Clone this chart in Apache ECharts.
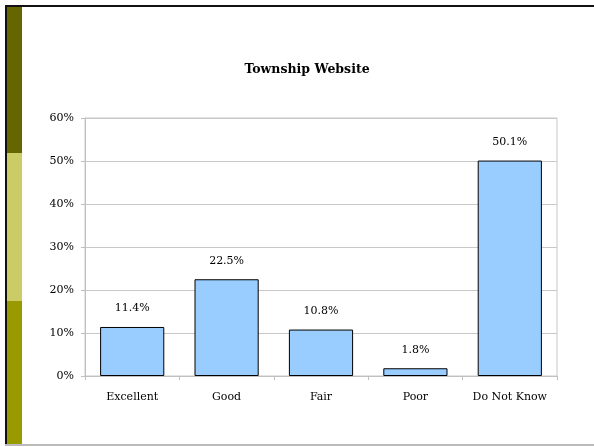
<!DOCTYPE html>
<html>
<head>
<meta charset="utf-8">
<script src="https://cdn.jsdelivr.net/npm/echarts@6/dist/echarts.min.js"></script>
<style>
  html, body { margin: 0; padding: 0; background: #fff; }
  #chart { width: 594px; height: 447px; }
</style>
</head>
<body>
<div id="chart"></div>
<script>
// Survey responses for the township website
const categories = ['Excellent', 'Good', 'Fair', 'Poor', 'Do Not Know'];
const shares = [11.4, 22.5, 10.8, 1.8, 50.1];
const yTicks = [0, 10, 20, 30, 40, 50, 60];

const FONT = '"DejaVu Serif", "Liberation Serif", serif';

const chart = echarts.init(document.getElementById('chart'), null, { renderer: 'canvas' });

chart.setOption({
  backgroundColor: '#ffffff',
  animation: false,
  title: {
    text: 'Township Website',
    left: 302,
    top: 58,
    textAlign: 'center',
    textStyle: { fontFamily: FONT, fontSize: 12.5, fontWeight: 'bold', color: '#000' }
  },
  graphic: [
    // slide frame: dark top and left edges, light bottom edge
    { type: 'rect', shape: { x: 5, y: 5, width: 589, height: 2 }, style: { fill: '#111' } },
    { type: 'rect', shape: { x: 5, y: 5, width: 2, height: 440 }, style: { fill: '#111' } },
    { type: 'rect', shape: { x: 5, y: 444, width: 589, height: 2 }, style: { fill: '#bbb' } },
    // coloured side stripe
    { type: 'rect', shape: { x: 7, y: 7, width: 15, height: 146 }, style: { fill: '#666600' } },
    { type: 'rect', shape: { x: 7, y: 153, width: 15, height: 148 }, style: { fill: '#CCCC66' } },
    { type: 'rect', shape: { x: 7, y: 301, width: 15, height: 143 }, style: { fill: '#999900' } }
  ],
  grid: { left: 85, right: 37, top: 118, bottom: 71, show: true, borderColor: '#c8c8c8', borderWidth: 1 },
  xAxis: {
    type: 'category',
    data: categories,
    axisLine: { show: true, lineStyle: { color: '#c0c0c0', width: 1 } },
    axisTick: { show: true, alignWithLabel: false, length: 4, lineStyle: { color: '#c0c0c0' } },
    axisLabel: { fontFamily: FONT, fontSize: 11, color: '#000', margin: 16, interval: 0 }
  },
  yAxis: {
    type: 'value',
    min: yTicks[0],
    max: yTicks[yTicks.length - 1],
    interval: 10,
    axisLine: { show: true, lineStyle: { color: '#c0c0c0', width: 1 } },
    axisTick: { show: true, length: 4, lineStyle: { color: '#c0c0c0' } },
    splitLine: { show: true, lineStyle: { color: '#c8c8c8', width: 1 } },
    axisLabel: { fontFamily: FONT, fontSize: 11, color: '#000', margin: 11, formatter: v => v + '%' }
  },
  series: [{
    type: 'bar',
    data: shares,
    barWidth: '68%',
    itemStyle: { color: '#99CCFF', borderColor: '#000', borderWidth: 1 },
    label: {
      show: true,
      position: 'top',
      distance: 13,
      fontFamily: FONT,
      fontSize: 11,
      color: '#000',
      formatter: p => p.value.toFixed(1) + '%'
    }
  }]
});
</script>
</body>
</html>
